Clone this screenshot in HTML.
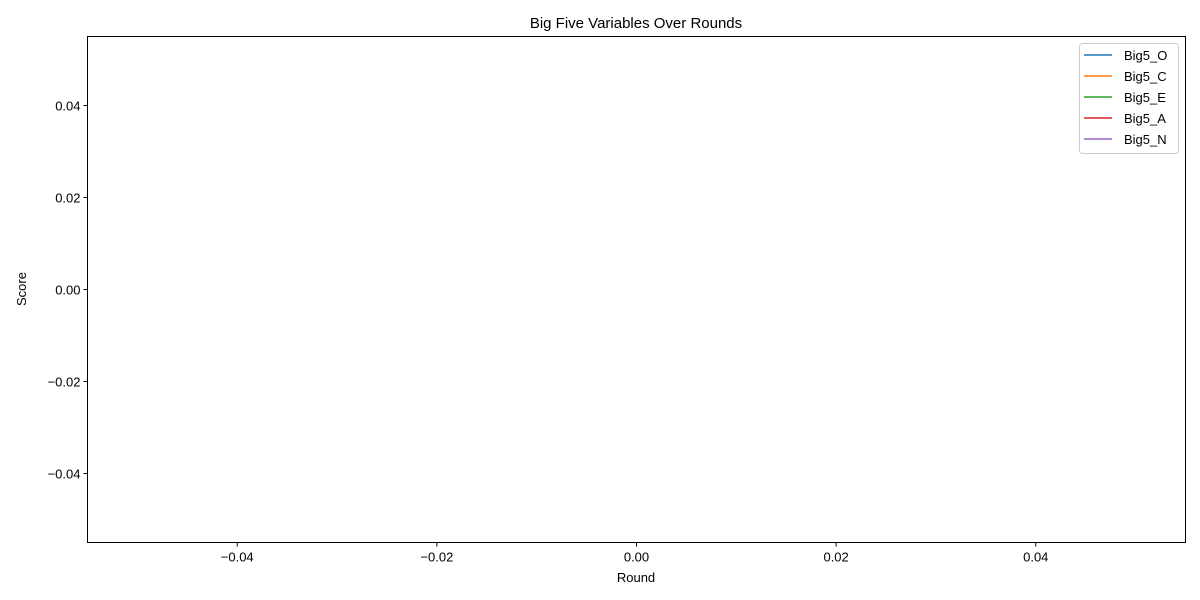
<!DOCTYPE html>
<html><head><meta charset="utf-8"><style>
body{margin:0;background:#fff;}
svg{display:block;font-family:"Liberation Sans","DejaVu Sans",sans-serif;}
</style></head><body>
<svg id="chart" width="1200" height="600">
<rect x="0" y="0" width="1200" height="600" fill="#fff"/>
<text x="636" y="28" font-size="15" text-anchor="middle">Big Five Variables Over Rounds</text>
<text x="636" y="582" font-size="13" text-anchor="middle">Round</text>
<text x="26" y="289" font-size="13" text-anchor="middle" transform="rotate(-90 26 289)">Score</text>
<g id="series"></g>
<rect x="87.5" y="36.5" width="1098" height="506" fill="none" stroke="#000" stroke-width="1"/>
<g id="xticks"></g>
<g id="yticks"></g>
<g id="legend"></g>
</svg>
<script>
const seriesNames = ["Big5_O","Big5_C","Big5_E","Big5_A","Big5_N"];
const seriesColors = ["#1f77b4","#ff7f0e","#2ca02c","#d62728","#9467bd"];
const rounds = [];
const seriesO = [];
const seriesC = [];
const seriesE = [];
const seriesA = [];
const seriesN = [];
const xTicks = [-0.04,-0.02,0,0.02,0.04];
const yTicks = [-0.04,-0.02,0,0.02,0.04];
const NS="http://www.w3.org/2000/svg";
const xMin=-0.055,xMax=0.055,yMin=-0.055,yMax=0.055;
const L=87.5,R=1185.5,T=36.5,B=542.5;
const xs=v=>L+(v-xMin)/(xMax-xMin)*(R-L);
const ys=v=>B-(v-yMin)/(yMax-yMin)*(B-T);
const fmt=v=>(v<0?"\u2212":"")+Math.abs(v).toFixed(2);
function mk(t,a,p){const e=document.createElementNS(NS,t);for(const k in a)e.setAttribute(k,a[k]);p.appendChild(e);return e;}
const xg=document.getElementById("xticks"),yg=document.getElementById("yticks");
xTicks.forEach(v=>{const x=xs(v);
 const l=mk("line",{x1:x,x2:x,y1:B,y2:B+4,stroke:"#000"},xg);
 
 
 const t=mk("text",{x:x,y:B+19,"font-size":13,"text-anchor":"middle"},xg);t.textContent=fmt(v);
 
 });
yTicks.forEach(v=>{const y=ys(v);
 const l=mk("line",{x1:L-4,x2:L,y1:y,y2:y,stroke:"#000"},yg);
 
 
 const t=mk("text",{x:L-7,y:y+5,"font-size":13,"text-anchor":"end"},yg);t.textContent=fmt(v);
 
 });
const sg=document.getElementById("series");
[seriesO,seriesC,seriesE,seriesA,seriesN].forEach((vals,i)=>{
 const pts=vals.map((v,j)=>xs(rounds[j])+","+ys(v)).join(" ");
 const p=mk("polyline",{points:pts,fill:"none",stroke:seriesColors[i],"stroke-width":1.5},sg);
 
 });
const lg=document.getElementById("legend");
const box=mk("rect",{x:1079.5,y:43.5,width:99,height:110,rx:3,fill:"#fff","fill-opacity":0.8,stroke:"#ccc"},lg);


seriesNames.forEach((n,i)=>{const y=55+i*21;
 const l=mk("line",{x1:1084,x2:1112,y1:y,y2:y,stroke:seriesColors[i],"stroke-width":1.5},lg);
 
 
 const t=mk("text",{x:1124,y:y+5,"font-size":13},lg);t.textContent=n;
 
 });
</script>
</body></html>
